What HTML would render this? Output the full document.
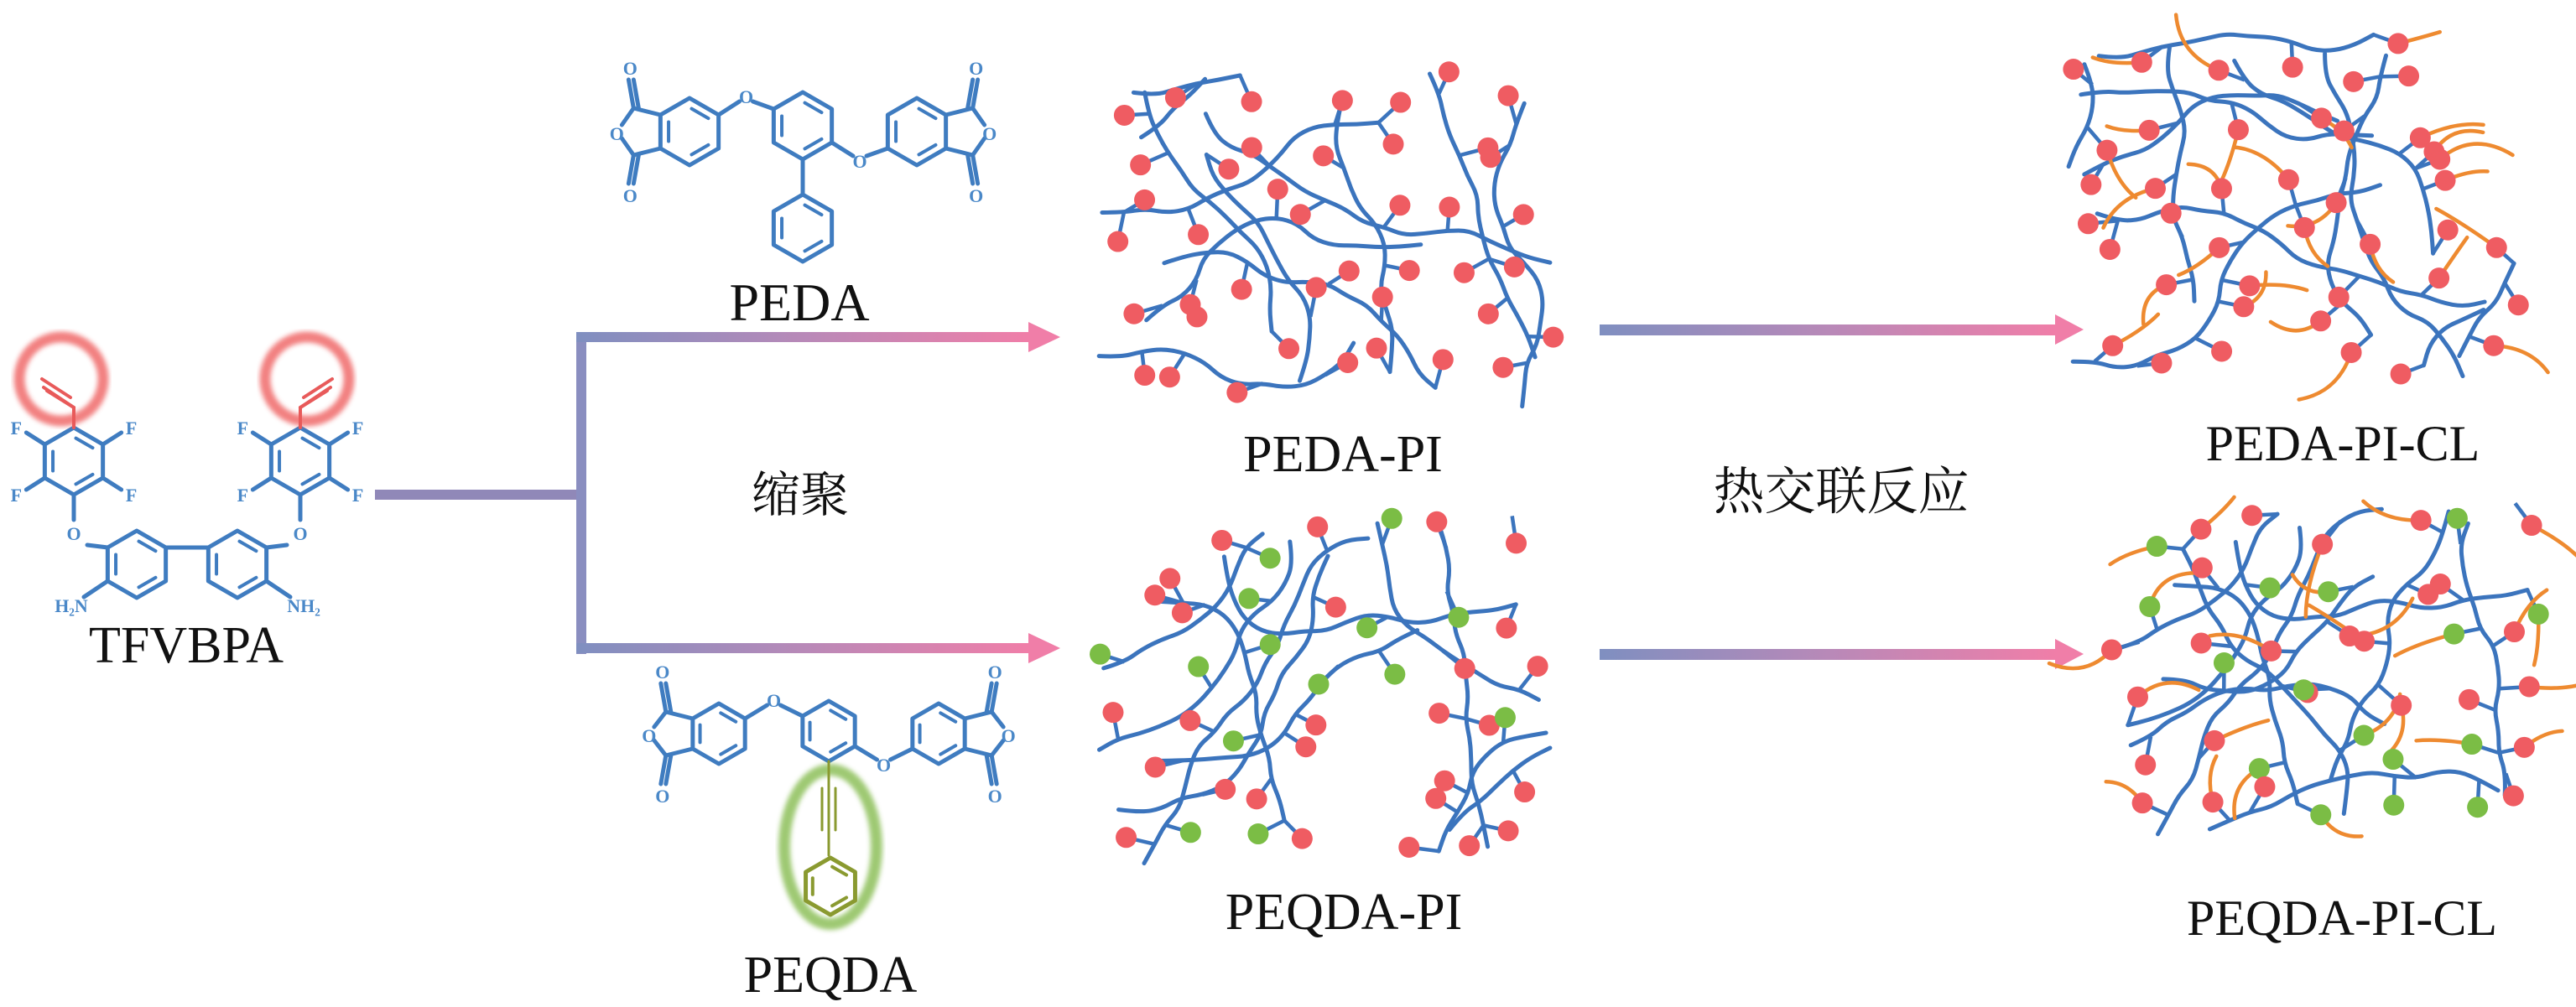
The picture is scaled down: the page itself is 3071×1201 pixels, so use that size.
<!DOCTYPE html>
<html><head><meta charset="utf-8"><style>
html,body{margin:0;padding:0;background:#fff;}
body{width:3071px;height:1201px;position:relative;overflow:hidden;}
svg{position:absolute;left:0;top:0;}
.t{font-family:"Liberation Serif",serif;fill:#111;}
.c{font-family:"Liberation Serif","Noto Serif CJK SC","Noto Sans CJK SC",serif;fill:#111;}
.a{font-family:"Liberation Serif",serif;fill:#4a88c8;font-size:22px;font-weight:bold;}
</style></head><body>
<svg id="s" width="3071" height="1201" viewBox="0 0 3071 1201" xmlns="http://www.w3.org/2000/svg">
<defs>
<linearGradient id="g1" x1="0" x2="1" y1="0" y2="0"><stop offset="0" stop-color="#7f8fc0"/><stop offset="0.5" stop-color="#b889b8"/><stop offset="1" stop-color="#f07ea8"/></linearGradient>
<filter id="blur"><feGaussianBlur stdDeviation="3"/></filter>
</defs>
<rect x="447" y="584" width="252" height="12" fill="#9088b8"/>
<rect x="687" y="396" width="12" height="384" fill="#8a8ec0"/>
<rect x="687" y="396" width="540" height="12" fill="url(#g1)"/>
<polygon points="1226,384 1264,402 1226,420" fill="#f07ea8"/>
<rect x="687" y="767" width="540" height="12" fill="url(#g1)"/>
<polygon points="1226,755 1264,773 1226,791" fill="#f07ea8"/>
<rect x="1907" y="387" width="545" height="13" fill="url(#g1)"/>
<polygon points="2450,375 2484,393 2450,411" fill="#f07ea8"/>
<rect x="1907" y="774" width="545" height="13" fill="url(#g1)"/>
<polygon points="2450,762 2484,780 2450,798" fill="#f07ea8"/>
<g id="mol"></g>
<g id="nets"></g>
<text class="t" x="953" y="382" font-size="64" text-anchor="middle">PEDA</text>
<text class="t" x="222" y="790" font-size="62" text-anchor="middle">TFVBPA</text>
<text class="c" x="954" y="610" font-size="58" text-anchor="middle">缩聚</text>
<text class="t" x="1601" y="562" font-size="62" text-anchor="middle">PEDA-PI</text>
<text class="c" x="2195" y="607" font-size="61" text-anchor="middle">热交联反应</text>
<text class="t" x="2793" y="549" font-size="60" text-anchor="middle">PEDA-PI-CL</text>
<text class="t" x="1602" y="1108" font-size="62" text-anchor="middle">PEQDA-PI</text>
<text class="t" x="2792" y="1115" font-size="60" text-anchor="middle">PEQDA-PI-CL</text>
<text class="t" x="990" y="1183" font-size="62" text-anchor="middle">PEQDA</text>
</svg>
<script>
(function(){
var NS="http://www.w3.org/2000/svg";
function el(p,tag,a){var e=document.createElementNS(NS,tag);for(var k in a)e.setAttribute(k,a[k]);p.appendChild(e);return e;}
var mol=document.getElementById('mol');
var B="#3f7cc0";
function line(x1,y1,x2,y2,c,w){el(mol,'line',{x1:x1,y1:y1,x2:x2,y2:y2,stroke:c||B,'stroke-width':w||5,'stroke-linecap':'round'});}
function hex(cx,cy,r,c,inner){var p=[];for(var i=0;i<6;i++){var a=Math.PI/180*(-90+60*i);p.push([cx+r*Math.cos(a),cy+r*Math.sin(a)]);}
 el(mol,'polygon',{points:p.map(function(q){return q.join(',')}).join(' '),fill:'none',stroke:c||B,'stroke-width':5,'stroke-linejoin':'round'});
 (inner||[0,2,4]).forEach(function(i){var a=p[i],b=p[(i+1)%6];var k=0.72;var ax=cx+(a[0]-cx)*k,ay=cy+(a[1]-cy)*k,bx=cx+(b[0]-cx)*k,by=cy+(b[1]-cy)*k;
  var mx=(ax+bx)/2,my=(ay+by)/2;line(mx+(ax-mx)*0.8,my+(ay-my)*0.8,mx+(bx-mx)*0.8,my+(by-my)*0.8,c,4);});
 return p;}
function lab(x,y,t,c){var e=el(mol,'text',{x:x,y:y+8,'text-anchor':'middle','class':'a'});if(c)e.setAttribute('fill',c);e.textContent=t;}
var R="#e85a5a";
[[88,550],[358,550]].forEach(function(c,j){var p=hex(c[0],c[1],40);
 line(p[5][0],p[5][1],p[5][0]-22,p[5][1]-14);lab(p[5][0]-34,p[5][1]-20,'F');
 line(p[4][0],p[4][1],p[4][0]-22,p[4][1]+14);lab(p[4][0]-34,p[4][1]+20,'F');
 line(p[1][0],p[1][1],p[1][0]+22,p[1][1]-14);lab(p[1][0]+34,p[1][1]-20,'F');
 line(p[2][0],p[2][1],p[2][0]+22,p[2][1]+14);lab(p[2][0]+34,p[2][1]+20,'F');
 line(c[0],c[1]+40,c[0],c[1]+70);lab(c[0],c[1]+86,'O');
 el(mol,'circle',{cx:c[0]-(j?-8:15),cy:452,r:50,fill:'none',stroke:'#f06a6a','stroke-width':13,opacity:0.85,filter:'url(#blur)'});
 line(c[0],c[1]-40,c[0],486,R,4);
 var d=j?1:-1;line(c[0],486,c[0]+d*32,466,R,4);line(c[0]+d*4,474,c[0]+d*38,452,R,4);line(c[0]+d*0,486,c[0]+d*36,462,R,4);
});
var q1=hex(163,673,40),q2=hex(283,673,40);
line(q1[1][0],q1[1][1],q2[5][0],q2[5][1]);
line(104,650,q1[5][0],q1[5][1]);line(342,650,q2[1][0],q2[1][1]);
line(q1[4][0],q1[4][1],100,712);lab(85,722,'H₂N');
line(q2[2][0],q2[2][1],346,712);lab(362,722,'NH₂');
function dianh(y,L,M,Rr,r,alk){
 var a=hex(L,y,r),m=hex(M,y-(alk?3:7),r),b=hex(Rr,y,r);
 var t1=[a[5][0]-32,a[5][1]-8],t2=[a[4][0]-32,a[4][1]+8],o=[a[5][0]-52,y];
 line(a[5][0],a[5][1],t1[0],t1[1]);line(a[4][0],a[4][1],t2[0],t2[1]);line(t1[0],t1[1],o[0]+6,o[1]-8);line(t2[0],t2[1],o[0]+6,o[1]+8);
 lab(o[0],o[1]+2,'O');line(t1[0],t1[1],t1[0]-6,t1[1]-34);line(t1[0]+6,t1[1],t1[0],t1[1]-34);lab(t1[0]-4,t1[1]-48,'O');
 line(t2[0],t2[1],t2[0]-6,t2[1]+34);line(t2[0]+6,t2[1],t2[0],t2[1]+34);lab(t2[0]-4,t2[1]+48,'O');
 var s1=[b[1][0]+32,b[1][1]-8],s2=[b[2][0]+32,b[2][1]+8],o2=[b[1][0]+52,y];
 line(b[1][0],b[1][1],s1[0],s1[1]);line(b[2][0],b[2][1],s2[0],s2[1]);line(s1[0],s1[1],o2[0]-6,o2[1]-8);line(s2[0],s2[1],o2[0]-6,o2[1]+8);
 lab(o2[0],o2[1]+2,'O');line(s1[0],s1[1],s1[0]+6,s1[1]-34);line(s1[0]-6,s1[1],s1[0],s1[1]-34);lab(s1[0]+4,s1[1]-48,'O');
 line(s2[0],s2[1],s2[0]+6,s2[1]+34);line(s2[0]-6,s2[1],s2[0],s2[1]+34);lab(s2[0]+4,s2[1]+48,'O');
 var oA=[(a[1][0]+m[5][0])/2,a[1][1]-22];line(a[1][0],a[1][1],oA[0]-8,oA[1]+6);line(oA[0]+8,oA[1]+6,m[5][0],m[5][1]);lab(oA[0],oA[1],'O');
 var oB=[(m[2][0]+b[4][0])/2,m[2][1]+22];line(m[2][0],m[2][1],oB[0]-8,oB[1]-6);line(oB[0]+8,oB[1]-6,b[4][0],b[4][1]);lab(oB[0],oB[1],'O');
 return m;}
var m=dianh(157,822,957,1093,40,false);
line(m[3][0],m[3][1],957,232);hex(957,272,40);
var m2=dianh(875,857,988,1119,36,true);
var G="#8a9a30";
el(mol,'ellipse',{cx:990,cy:1010,rx:55,ry:92,fill:'none',stroke:'#8dc05a','stroke-width':14,opacity:0.85,filter:'url(#blur)'});
line(m2[3][0],m2[3][1],m2[3][0],1020,G,3);line(m2[3][0]-8,940,m2[3][0]-8,990,G,3);line(m2[3][0]+8,940,m2[3][0]+8,990,G,3);
hex(990,1057,34,G);

var nets=document.getElementById('nets');
function rng(s){return function(){s|=0;s=s+0x6D2B79F5|0;var t=Math.imul(s^s>>>15,1|s);t=t+Math.imul(t^t>>>7,61|t)^t;return((t^t>>>14)>>>0)/4294967296;}}
function net(x0,y0,w,h,seed,green,cl){
 var r=rng(seed),g=el(nets,'g',{});
 var chains=[],all=[];
 var NC=12;
 for(var c=0;c<NC;c++){
  var horiz=c%2==0;
  var x,y,a;
  if(horiz){x=x0+r()*w*0.15;y=y0+(c/NC)*h+r()*h*0.12;a=(r()-0.5)*0.8;if(r()<0.4){x=x0+w-r()*w*0.15;a=Math.PI+a;}}
  else{x=x0+((c-1)/NC)*w+r()*w*0.12;y=y0+r()*h*0.15;a=Math.PI/2+(r()-0.5)*0.8;if(r()<0.4){y=y0+h-r()*h*0.15;a=-Math.PI/2+(a-Math.PI/2);}}
  var pts=[[x,y]],n=12+Math.floor(r()*8);
  for(var i=0;i<n;i++){a+=(r()-0.5)*1.0;
   var nx=x+Math.cos(a)*26,ny=y+Math.sin(a)*26;
   if(nx<x0||nx>x0+w||ny<y0||ny>y0+h)break;
   x=nx;y=ny;pts.push([x,y]);all.push([x,y]);}
  if(pts.length<3)continue;
  chains.push(pts);
  var d='M'+pts[0][0].toFixed(1)+' '+pts[0][1].toFixed(1);
  for(var i=1;i<pts.length-1;i++){var mx=(pts[i][0]+pts[i+1][0])/2,my=(pts[i][1]+pts[i+1][1])/2;d+=' Q'+pts[i][0].toFixed(1)+' '+pts[i][1].toFixed(1)+' '+mx.toFixed(1)+' '+my.toFixed(1);}
  var lp=pts[pts.length-1];d+=' L'+lp[0].toFixed(1)+' '+lp[1].toFixed(1);
  el(g,'path',{d:d,fill:'none',stroke:'#3b74bd','stroke-width':5,'stroke-linecap':'round','stroke-linejoin':'round'});
 }
 var dots=[],nx=7,ny=6;
 for(var i=0;i<nx;i++)for(var j=0;j<ny;j++){
  var tx=x0+(i+0.2+r()*0.6)*w/nx,ty=y0+(j+0.2+r()*0.6)*h/ny;
  var best=null,bd=1e9;all.forEach(function(p){var dd=(p[0]-tx)*(p[0]-tx)+(p[1]-ty)*(p[1]-ty);if(dd<bd){bd=dd;best=p;}});
  if(!best)continue;
  var a=Math.atan2(ty-best[1],tx-best[0]);if(bd<4)a=r()*6.28;
  var L=28+r()*8,dx=best[0]+Math.cos(a)*L,dy=best[1]+Math.sin(a)*L;
  el(g,'line',{x1:best[0],y1:best[1],x2:dx,y2:dy,stroke:'#3b74bd','stroke-width':4.5});
  dots.push([dx,dy,a,r()<green]);}
 if(cl){dots.forEach(function(d){if(r()<0.6){var a=d[2]+(r()-0.5)*1.2,L=45+r()*45,b=a+(r()-0.5)*1.4;
   var cx=d[0]+Math.cos(a)*L*0.6,cy=d[1]+Math.sin(a)*L*0.6,ex=d[0]+Math.cos(b)*L,ey=d[1]+Math.sin(b)*L;
   el(g,'path',{d:'M'+d[0]+' '+d[1]+' Q'+cx+' '+cy+' '+ex+' '+ey,fill:'none',stroke:'#ee8a30','stroke-width':4.5,'stroke-linecap':'round'});}});}
 dots.forEach(function(d){el(g,'circle',{cx:d[0],cy:d[1],r:12.5,fill:d[3]?'#7bbd45':'#ef5c62'});});
}
net(1310,85,540,400,11,0,false);
net(1310,615,545,420,23,0.38,false);
net(2460,40,550,420,11,0,true);
net(2520,600,530,400,23,0.38,true);
})();
</script>
</body></html>
